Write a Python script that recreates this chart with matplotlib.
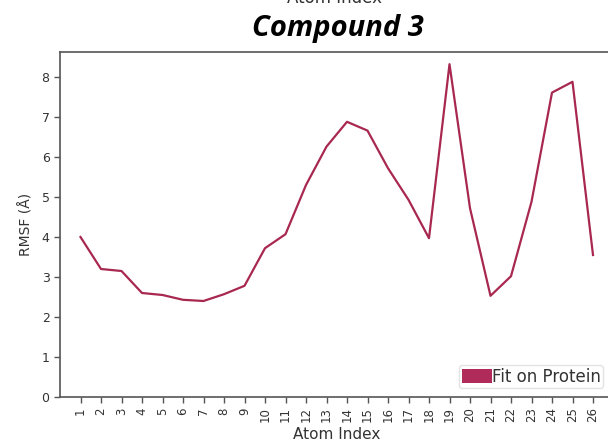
import matplotlib
matplotlib.use("Agg")
import matplotlib.pyplot as plt
from matplotlib.patches import Patch

atom_index = list(range(1, 27))
tick_labels = [str(i) for i in atom_index]
rmsf = [4.00, 3.20, 3.15, 2.60, 2.55, 2.43, 2.40, 2.57, 2.78, 3.72,
        4.07, 5.30, 6.26, 6.88, 6.66, 5.72, 4.93, 3.97, 8.32, 4.72,
        2.53, 3.02, 4.88, 7.61, 7.88, 3.55]
series_label = "Fit on Protein"
title = "Compound 3"

line_color = "#a8284f"
patch_color = "#b02a5a"
text_color = "#333333"

fig = plt.figure(figsize=(6.08, 4.48), dpi=100)
ax_w = (613.5 - 60) / 608
ax = fig.add_axes([60/608, 1-397/448, ax_w, (397-52)/448])

ax.plot(atom_index, rmsf, color=line_color, lw=1.6)
ax.set_xlim(0, 27)
ax.set_ylim(0, 8.625)
ax.set_xticks(atom_index)
ax.set_xticklabels(tick_labels, rotation=90, fontsize=8.5, color=text_color)
ax.set_yticks(range(0, 9))
ax.tick_params(axis='y', labelsize=9, labelcolor=text_color)
ax.tick_params(direction='out', length=4, width=1, color='#555555')
for s in ax.spines.values():
    s.set_color('#555555')
    s.set_linewidth(1.2)

ax.set_xlabel("Atom Index", fontsize=11, color=text_color, labelpad=3)
ax.set_ylabel("RMSF (Å)", fontsize=10, color=text_color, labelpad=6)

leg = ax.legend(handles=[Patch(facecolor=patch_color, label=series_label)],
                loc='lower right', bbox_to_anchor=((603-60)/553.5, (397-388)/345),
                fontsize=12, frameon=True, handlelength=1.8, handleheight=0.9,
                handletextpad=0.0, borderpad=0.15, borderaxespad=0.0, fancybox=True)
leg.get_frame().set_edgecolor('#dddddd')
for t in leg.get_texts():
    t.set_color(text_color)

fig.text(0.555, 0.937, title, ha='center', va='center', fontsize=21,
         fontweight='bold', style='italic', family=['Open Sans', 'DejaVu Sans'])
fig.text(0.55, 1.004, "Atom Index", ha='center', va='center', fontsize=12,
         color=text_color)

fig.savefig("out.png", dpi=100)
